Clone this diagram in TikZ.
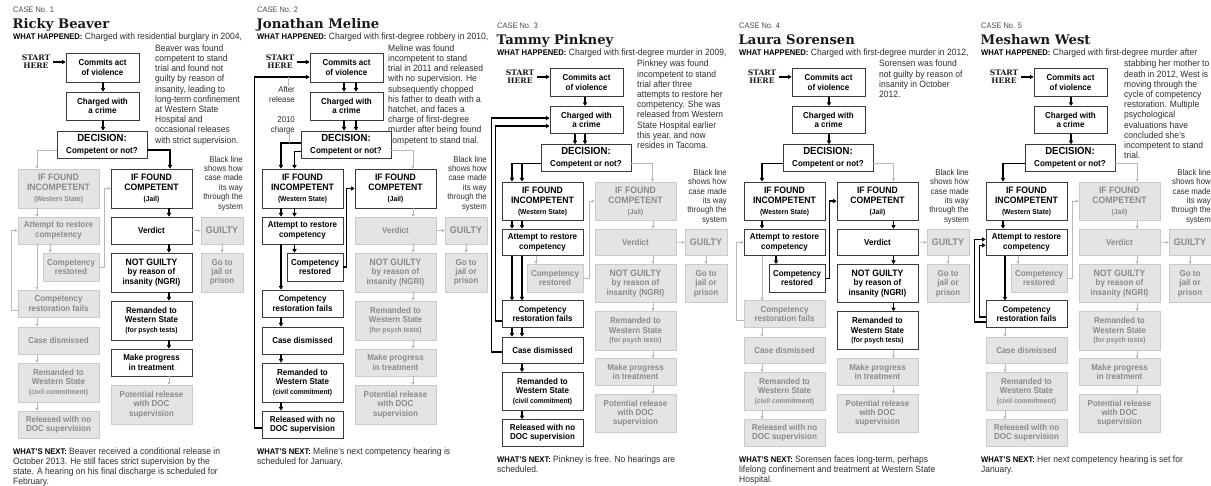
\documentclass[tikz,border=0pt]{standalone}
\usepackage{fontspec}
\setmainfont{Liberation Sans}[FakeStretch=0.93]
\newfontfamily\slabfont{DejaVu Serif}
\usetikzlibrary{arrows.meta}
\definecolor{bxfill}{HTML}{E4E4E4}
\definecolor{bxline}{HTML}{CACACA}
\definecolor{bxtext}{HTML}{8A8A8A}
\definecolor{kbox}{HTML}{3A3A3A}
\definecolor{gline}{HTML}{B8B8B8}
\definecolor{bodyc}{HTML}{2E2E2E}
\definecolor{casec}{HTML}{4A4A4A}
\definecolor{namec}{HTML}{1A1A1A}
\tikzset{
 bxg/.style={draw=bxline,fill=bxfill,text=bxtext,line width=0.6pt,align=center,inner sep=0pt,font=\bfseries\fontsize{8.6}{9.3}\selectfont},
 bxk/.style={draw=kbox,fill=white,text=black,line width=0.8pt,align=center,inner sep=0pt,font=\bfseries\fontsize{8.6}{9.3}\selectfont},
 tallf/.style={font=\bfseries\fontsize{8.6}{10.4}\selectfont},
 decf/.style={font=\bfseries\fontsize{8.6}{11.6}\selectfont},
 ag/.style={draw=gline,line width=0.7pt,-{Triangle[length=2.8pt,width=3pt]}},
 ak/.style={draw=black,line width=1.3pt,-{Triangle[length=3.6pt,width=4.2pt]}},
 gl/.style={draw=gline,line width=0.6pt},
 casef/.style={inner sep=0pt,text=casec,font=\fontsize{8}{9}\selectfont},
 namef/.style={inner sep=0pt,text=namec,font=\slabfont\bfseries\fontsize{13.2}{14}\selectfont},
 bodyf/.style={inner sep=0pt,text=bodyc,font=\fontsize{9.15}{10.2}\selectfont},
 notef/.style={inner sep=0pt,text=bodyc,font=\fontsize{8.4}{9.4}\selectfont,align=right},
 startf/.style={inner sep=0pt,text=namec,font=\slabfont\bfseries\fontsize{7.6}{8.3}\selectfont,align=center},
 sCom/.style=bxg, sCha/.style=bxg, sDec/.style=bxg, sInc/.style=bxg, sCmp/.style=bxg,
 sAtt/.style=bxg, sVer/.style=bxg, sGui/.style=bxg, sRes/.style=bxg, sNg/.style=bxg,
 sJai/.style=bxg, sFai/.style=bxg, sRps/.style=bxg, sDis/.style=bxg, sMak/.style=bxg,
 sRci/.style=bxg, sPot/.style=bxg, sRel/.style=bxg
}
\newcommand\whatf{\bfseries\color{black}\fontsize{8.2}{10.2}\selectfont}
\newcommand\hdr[1]{{\fontsize{9.3}{10}\selectfont #1}}
\newcommand\hdrD[1]{{\fontsize{10.3}{11}\selectfont #1}}
\newcommand\hdrG[1]{{\fontsize{9.6}{10}\selectfont #1}}
\newcommand\smt[1]{{\fontsize{7.2}{8}\selectfont #1}}
\def\ys{1}
\newcommand\bx[7]{\node[#1,minimum width={(#5-#3)*1pt},minimum height={(#6-#4)*\ys*1pt}] (#2) at ({(#3+#5)/2},{(#4+#6)/2}) {#7};}
\newcommand\vd[5]{\draw[#1] ([xshift=#4pt]#2.south) -- ([xshift=#5pt]#3.north);}
\newcommand\flow{%
\bx{sCom}{\cp com}{66}{53}{139}{82}{Commits act\\of violence}%
\bx{sCha}{\cp cha}{66}{92}{139}{120}{Charged with\\a crime}%
\bx{sDec,decf}{\cp dec}{57}{131}{147}{158}{\hdrD{DECISION:}\\Competent or not?}%
\bx{sInc,tallf}{\cp inc}{18}{169}{99}{208}{\hdr{IF FOUND}\\\hdr{INCOMPETENT}\\\smt{(Western State)}}%
\bx{sCmp,tallf}{\cp cmp}{111}{169}{192}{208}{\hdr{IF FOUND}\\\hdr{COMPETENT}\\\smt{(Jail)}}%
\bx{sAtt}{\cp att}{18}{217}{99}{244}{Attempt to restore\\competency}%
\bx{sVer}{\cp ver}{111}{217}{192}{244}{Verdict}%
\bx{sGui}{\cp gui}{201}{217}{243}{244}{\hdrG{GUILTY}}%
\bx{sRes}{\cp res}{43}{253}{99}{281}{Competency\\restored}%
\bx{sNg}{\cp ng}{111}{253}{192}{292}{\hdr{NOT GUILTY}\\by reason of\\insanity (NGRI)}%
\bx{sJai}{\cp jai}{201}{253}{243}{292}{Go to\\jail or\\prison}%
\bx{sFai}{\cp fai}{18}{290}{99}{317}{Competency\\restoration fails}%
\bx{sRps}{\cp rps}{111}{301}{192}{340}{Remanded to\\Western State\\\smt{(for psych tests)}}%
\bx{sDis}{\cp dis}{18}{327}{99}{354}{Case dismissed}%
\bx{sMak}{\cp mak}{111}{349}{192}{376}{Make progress\\in treatment}%
\bx{sRci}{\cp rci}{18}{363}{99}{402}{Remanded to\\Western State\\\smt{(civil commitment)}}%
\bx{sPot}{\cp pot}{111}{385}{192}{424}{Potential release\\with DOC\\supervision}%
\bx{sRel}{\cp rel}{18}{411}{99}{438}{Released with no\\DOC supervision}%
\node[startf] (\cp st) at (36,62) {START\\HERE};%
\draw[ak] ([xshift=3pt]\cp st.east) -- (\cp st.east -| \cp com.west);%
\node[notef,anchor=north east] (\cp note) at (243,155.8) {Black line\\shows how\\case made\\its way\\through the\\system};%
}
\newcommand\header[7]{%
\begin{scope}[xshift=#1pt,yshift=-#2pt]
\node[casef,anchor=base west] (\cp num) at (13,13) {CASE No. #3};
\node[namef,anchor=base west] (\cp name) at (12.5,29) {#4};
\node[bodyf,anchor=base west] (\cp wh) at (13,40) {{\whatf WHAT HAPPENED:} #5};
\node[bodyf,anchor=north west,align=left] (\cp desc) at (#6,44.5) {#7};
\end{scope}}
\newcommand\nexttext[1]{\node[bodyf,anchor=north west,align=left] (\cp next) at (13,447.4) {{\whatf WHAT’S NEXT:} #1};}
\newcommand\rightgray{%
\vd{ag}{\cp cmp}{\cp ver}{17.5}{17.5}\vd{ag}{\cp ver}{\cp ng}{17.5}{17.5}%
\vd{ag}{\cp ng}{\cp rps}{17.5}{17.5}\vd{ag}{\cp rps}{\cp mak}{17.5}{17.5}%
\vd{ag}{\cp mak}{\cp pot}{17.5}{17.5}\draw[ag] (\cp ver) -- (\cp gui);%
\vd{ag}{\cp gui}{\cp jai}{0}{0}}
\begin{document}
\begin{tikzpicture}[x=1pt,y=-1pt]
\useasboundingbox (0,0) rectangle (1211,486);
\fill[white] (0,0) rectangle (1211,486);
% ---------------- CASE 1
\def\cp{a}
\header{0}{0}{1}{Ricky Beaver}{Charged with residential burglary in 2004,}{155}{Beaver was found\\competent to stand\\trial and found not\\guilty by reason of\\insanity, leading to\\long-term confinement\\at Western State\\Hospital and\\occasional releases\\with strict supervision.}
\begin{scope}[sCom/.style=bxk,sCha/.style=bxk,sDec/.style=bxk,sCmp/.style=bxk,sVer/.style=bxk,sNg/.style=bxk,sRps/.style=bxk,sMak/.style=bxk]
\def\ys{1}
\flow
\nexttext{Beaver received a conditional release in\\October 2013. He still faces strict supervision by the\\state. A hearing on his final discharge is scheduled for\\February.}
\vd{ak}{\cp com}{\cp cha}{0.5}{0.5}
\vd{ak}{\cp cha}{\cp dec}{0.5}{1}
\draw[ak] ([yshift=-5.5pt]\cp dec.east) -| ([xshift=18.5pt]\cp cmp.north);
\draw[ag] ([yshift=-5.5pt]\cp dec.west) -| ([xshift=-21.5pt]\cp inc.north);
\vd{ag}{\cp inc}{\cp att}{-21.5}{-21.5}
\vd{ag}{\cp att}{\cp res}{-8.5}{-21}
\vd{ag}{\cp att}{\cp fai}{-21.5}{-21.5}
\draw[ag] (\cp res.east) -- ++(5,0) |- (\cp cmp.west);
\draw[ag] ([yshift=-6.5pt]\cp fai.west) -- ++(-6,0) |- (\cp att.west);
\vd{ag}{\cp fai}{\cp dis}{-21.5}{-21.5}
\vd{ag}{\cp dis}{\cp rci}{-21.5}{-21.5}
\vd{ag}{\cp rci}{\cp rel}{-21.5}{-21.5}
\vd{ak}{\cp cmp}{\cp ver}{17.5}{17.5}
\vd{ak}{\cp ver}{\cp ng}{17.5}{17.5}
\vd{ak}{\cp ng}{\cp rps}{17.5}{17.5}
\vd{ak}{\cp rps}{\cp mak}{17.5}{17.5}
\vd{ag}{\cp mak}{\cp pot}{17.5}{17.5}
\draw[ag] (\cp ver) -- (\cp gui);
\vd{ag}{\cp gui}{\cp jai}{0}{0}
\end{scope}
% ---------------- CASE 2
\def\cp{b}
\header{244}{0}{2}{Jonathan Meline}{Charged with first-degree robbery in 2010,}{144}{Meline was found\\incompetent to stand\\trial in 2011 and released\\with no supervision. He\\subsequently chopped\\his father to death with a\\hatchet, and faces a\\charge of first-degree\\murder after being found\\competent to stand trial.}
\begin{scope}[xshift=244pt,sCom/.style=bxk,sCha/.style=bxk,sDec/.style=bxk,sInc/.style=bxk,sAtt/.style=bxk,sRes/.style=bxk,sFai/.style=bxk,sDis/.style=bxk,sRci/.style=bxk,sRel/.style=bxk,sCmp/.style=bxk]
\def\ys{1}
\flow
\nexttext{Meline’s next competency hearing is\\scheduled for January.}
\node[notef,font=\fontsize{8.4}{10}\selectfont,anchor=north east] (\cp la) at (51,86) {After\\release};
\node[notef,font=\fontsize{8.4}{10}\selectfont,anchor=north east] (\cp lb) at (51,116) {2010\\charge};
\vd{ak}{\cp com}{\cp cha}{-2.5}{-2.5}
\vd{ak}{\cp com}{\cp cha}{9.5}{9.5}
\vd{ak}{\cp cha}{\cp dec}{-2.5}{-2}
\vd{ak}{\cp cha}{\cp dec}{9.5}{10}
\draw[ak] ([yshift=1.5pt]\cp dec.west) -| ([xshift=-21.5pt]\cp inc.north);
\draw[ak] ([yshift=-7pt]\cp dec.west) -| ([xshift=-8pt]\cp inc.north);
\draw[ag] ([yshift=-5.5pt]\cp dec.east) -| ([xshift=17.5pt]\cp cmp.north);
\vd{ak}{\cp inc}{\cp att}{-21.5}{-21.5}
\vd{ak}{\cp inc}{\cp att}{-8}{-8}
\vd{ak}{\cp att}{\cp res}{-8}{-20.5}
\vd{ak}{\cp att}{\cp fai}{-21.5}{-21.5}
\draw[ak] (\cp res.east) -- ++(3,0) |- (\cp cmp.west);
\vd{ak}{\cp fai}{\cp dis}{-21.5}{-21.5}
\vd{ak}{\cp dis}{\cp rci}{-21.5}{-21.5}
\vd{ak}{\cp rci}{\cp rel}{-21.5}{-21.5}
\draw[ak] ([yshift=-3.5pt]\cp rel.west) -- ++(-7,0) |- ([yshift=-9.5pt]\cp com.west);
\draw[gl] ([xshift=6.5pt]\cp la.north) -- ++(0,-8.5);
\draw[gl] ([xshift=6.5pt]\cp lb.south) -- ++(0,9);
\rightgray
\end{scope}
% ---------------- CASE 3
\def\cp{c}
\header{484}{15.5}{3}{Tammy Pinkney}{Charged with first-degree murder in 2009,}{153}{Pinkney was found\\incompetent to stand\\trial after three\\attempts to restore her\\competency. She was\\released from Western\\State Hospital earlier\\this year, and now\\resides in Tacoma.}
\begin{scope}[xshift=484pt,yshift=-16pt,yscale=0.982,sCom/.style=bxk,sCha/.style=bxk,sDec/.style=bxk,sInc/.style=bxk,sAtt/.style=bxk,sFai/.style=bxk,sDis/.style=bxk,sRci/.style=bxk,sRel/.style=bxk]
\def\ys{0.982}
\flow
\nexttext{Pinkney is free. No hearings are\\scheduled.}
\vd{ak}{\cp com}{\cp cha}{-1.5}{-1.5}
\vd{ak}{\cp cha}{\cp dec}{-11.5}{-11}
\vd{ak}{\cp cha}{\cp dec}{-1.5}{-1}
\draw[ak] ([yshift=-6pt]\cp dec.west) -| ([xshift=-30.5pt]\cp inc.north);
\draw[ak] ([yshift=-6pt]\cp dec.west) -| ([xshift=-20.5pt]\cp inc.north);
\draw[ag] ([yshift=-6pt]\cp dec.east) -| ([xshift=17pt]\cp cmp.north);
\vd{ak}{\cp inc}{\cp att}{-30.5}{-30.5}
\vd{ak}{\cp inc}{\cp att}{-20.5}{-20.5}
\vd{ak}{\cp att}{\cp fai}{-30.5}{-30.5}
\vd{ak}{\cp att}{\cp fai}{-20.5}{-20.5}
\vd{ag}{\cp att}{\cp res}{-6.5}{-19}
\draw[ag] (\cp res.east) -- ++(6,0) |- (\cp cmp.west);
\vd{ak}{\cp fai}{\cp dis}{-30.5}{-30.5}
\vd{ak}{\cp fai}{\cp dis}{-20.5}{-20.5}
\vd{ak}{\cp dis}{\cp rci}{-20.5}{-20.5}
\vd{ak}{\cp rci}{\cp rel}{-20.5}{-20.5}
\draw[ak] ([yshift=-7pt]\cp fai.west) -- ++(-6,0) |- ([yshift=-6pt]\cp cha.west);
\draw[ak] ([yshift=-1.7pt]\cp dis.west) -- ++(-10,0) |- ([yshift=2pt]\cp cha.west);
\rightgray
\end{scope}
% ---------------- CASE 4
\def\cp{d}
\header{726}{15.5}{4}{Laura Sorensen}{Charged with first-degree murder in 2012,}{153}{Sorensen was found\\not guilty by reason of\\insanity in October\\2012.}
\begin{scope}[xshift=726pt,yshift=-16pt,yscale=0.982,sCom/.style=bxk,sCha/.style=bxk,sDec/.style=bxk,sInc/.style=bxk,sAtt/.style=bxk,sRes/.style=bxk,sCmp/.style=bxk,sVer/.style=bxk,sNg/.style=bxk,sRps/.style=bxk]
\def\ys{0.982}
\flow
\nexttext{Sorensen faces long-term, perhaps\\lifelong confinement and treatment at Western State\\Hospital.}
\vd{ak}{\cp com}{\cp cha}{0.5}{0.5}
\vd{ak}{\cp cha}{\cp dec}{0.5}{1}
\draw[ak] ([yshift=-5.5pt]\cp dec.west) -| ([xshift=-22.5pt]\cp inc.north);
\draw[ag] ([yshift=-5.5pt]\cp dec.east) -| ([xshift=16pt]\cp cmp.north);
\vd{ak}{\cp inc}{\cp att}{-22.5}{-22.5}
\vd{ak}{\cp att}{\cp res}{-8.5}{-21}
\vd{ag}{\cp att}{\cp fai}{-22.5}{-22.5}
\draw[ak] (\cp res.east) -- ++(4,0) |- (\cp cmp.west);
\draw[ag] ([yshift=-6pt]\cp fai.west) -- ++(-7,0) |- (\cp att.west);
\vd{ag}{\cp fai}{\cp dis}{-22.5}{-22.5}
\vd{ag}{\cp dis}{\cp rci}{-22.5}{-22.5}
\vd{ag}{\cp rci}{\cp rel}{-22.5}{-22.5}
\vd{ak}{\cp cmp}{\cp ver}{16}{16}
\vd{ak}{\cp ver}{\cp ng}{16}{16}
\vd{ak}{\cp ng}{\cp rps}{16}{16}
\vd{ag}{\cp rps}{\cp mak}{16}{16}
\vd{ag}{\cp mak}{\cp pot}{16}{16}
\draw[ag] (\cp ver) -- (\cp gui);
\vd{ag}{\cp gui}{\cp jai}{0}{0}
\end{scope}
% ---------------- CASE 5
\def\cp{e}
\header{968}{15.5}{5}{Meshawn West}{Charged with first-degree murder after}{156}{stabbing her mother to\\death in 2012, West is\\moving through the\\cycle of competency\\restoration. Multiple\\psychological\\evaluations have\\concluded she’s\\incompetent to stand\\trial.}
\begin{scope}[xshift=968pt,yshift=-16pt,yscale=0.982,sCom/.style=bxk,sCha/.style=bxk,sDec/.style=bxk,sInc/.style=bxk,sAtt/.style=bxk,sFai/.style=bxk]
\def\ys{0.982}
\flow
\nexttext{Her next competency hearing is set for\\January.}
\vd{ak}{\cp com}{\cp cha}{0.5}{0.5}
\vd{ak}{\cp cha}{\cp dec}{0.5}{1}
\draw[ak] ([yshift=-5.5pt]\cp dec.west) -| ([xshift=-23.5pt]\cp inc.north);
\draw[ag] ([yshift=-5.5pt]\cp dec.east) -| ([xshift=17.5pt]\cp cmp.north);
\vd{ak}{\cp inc}{\cp att}{-23.5}{-23.5}
\vd{ak}{\cp att}{\cp fai}{-21.5}{-21.5}
\vd{ag}{\cp att}{\cp res}{-8.5}{-21}
\draw[ag] (\cp res.east) -- ++(5,0) |- (\cp cmp.west);
\draw[ak] ([yshift=-3pt]\cp fai.west) -- ++(-6,0) |- ([yshift=-3pt]\cp att.west);
\draw[ak] ([yshift=-8pt]\cp fai.west) -- ++(-11,0) |- ([yshift=3pt]\cp att.west);
\vd{ag}{\cp fai}{\cp dis}{-21.5}{-21.5}
\vd{ag}{\cp dis}{\cp rci}{-21.5}{-21.5}
\vd{ag}{\cp rci}{\cp rel}{-21.5}{-21.5}
\rightgray
\end{scope}
\end{tikzpicture}
\end{document}
